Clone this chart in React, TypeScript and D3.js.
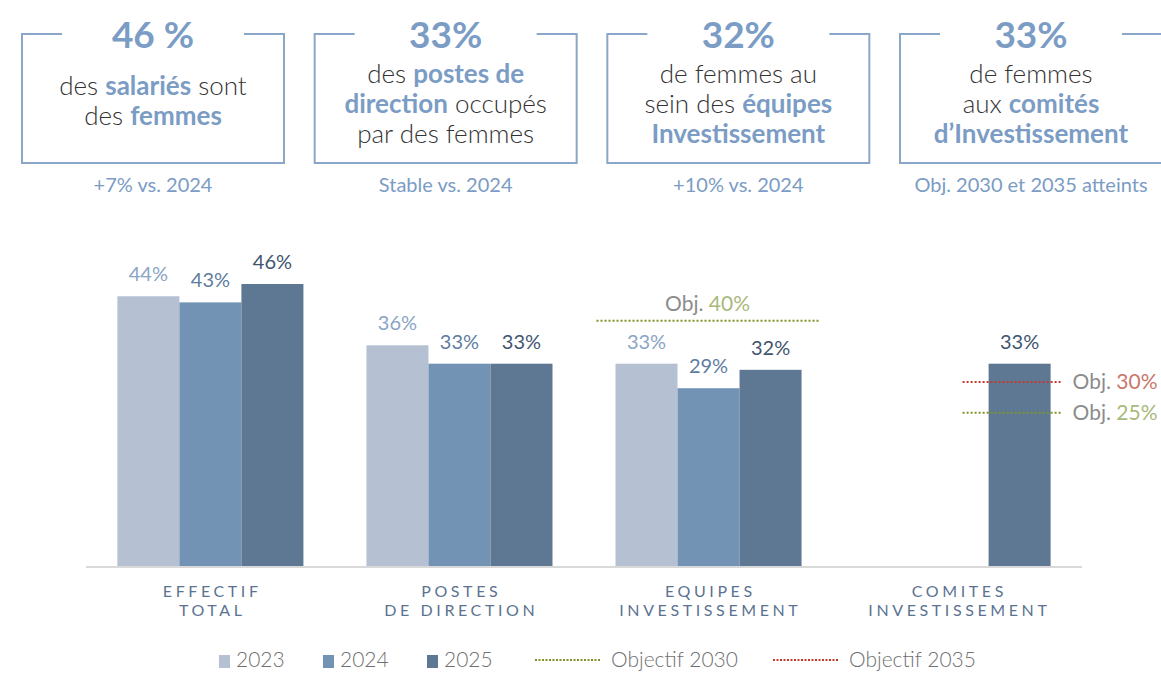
import React from "react";
import * as d3 from "d3";

const categories = [
  ["EFFECTIF", "TOTAL"],
  ["POSTES", "DE DIRECTION"],
  ["EQUIPES", "INVESTISSEMENT"],
  ["COMITES", "INVESTISSEMENT"],
];
const years = ["2023", "2024", "2025"];
const values2023: (number | null)[] = [44, 36, 33, null];
const values2024: (number | null)[] = [43, 33, 29, null];
const values2025: (number | null)[] = [46, 33, 32, 33];
const objectives = [
  { cat: 2, value: 40, kind: "2030", labelPos: "top" },
  { cat: 3, value: 30, kind: "2035", labelPos: "right" },
  { cat: 3, value: 25, kind: "2030", labelPos: "right" },
];
const kpiValues = ["46 %", "33%", "32%", "33%"];
const kpiLines: { t: string; b?: boolean }[][][] = [
  [
    [{ t: "des " }, { t: "salariés", b: true }, { t: " sont" }],
    [{ t: "des " }, { t: "femmes", b: true }],
  ],
  [
    [{ t: "des " }, { t: "postes de", b: true }],
    [{ t: "direction", b: true }, { t: " occupés" }],
    [{ t: "par des femmes" }],
  ],
  [
    [{ t: "de femmes au" }],
    [{ t: "sein des " }, { t: "équipes", b: true }],
    [{ t: "Investissement", b: true }],
  ],
  [
    [{ t: "de femmes" }],
    [{ t: "aux " }, { t: "comités", b: true }],
    [{ t: "d’Investissement", b: true }],
  ],
];
const kpiNotes = ["+7% vs. 2024", "Stable vs. 2024", "+10% vs. 2024", "Obj. 2030 et 2035 atteints"];
const legendObjectives = ["Objectif 2030", "Objectif 2035"];

const W = 1161;
const H = 673;
const FONT = "Lato, 'Open Sans', sans-serif";
const barColors = ["#b5c1d3", "#7393b5", "#5e7893"];
const labelColors = ["#8aa5c5", "#5f7d9f", "#3f556f"];
const objColors: Record<string, string> = { "2030": "#7d9428", "2035": "#c0392b" };
const objTextColors: Record<string, string> = { "2030": "#a9b97c", "2035": "#c8786c" };
const blue = "#7b9cc4";
const boxBlue = "#8aa6c8";

export default function App() {
  const baseline = 566;
  const x = d3
    .scaleBand<number>()
    .domain(d3.range(categories.length))
    .range([86, 1082])
    .paddingInner(0.253)
    .paddingOuter(0.126);
  const xi = d3.scaleBand<number>().domain(d3.range(years.length)).range([0, x.bandwidth()]);
  const y = d3.scaleLinear().domain([0, 46]).range([baseline, 284]);
  const series = [values2023, values2024, values2025];

  const boxX = d3.scaleLinear().domain([0, 3]).range([22, 900]);
  const boxW = 262;

  return (
    <svg width={W} height={H} style={{ position: "absolute", left: 0, top: 0, fontFamily: FONT }}>
      <rect width={W} height={H} fill="#fff" />
      {/* KPI boxes */}
      {kpiValues.map((v, i) => {
        const x0 = boxX(i);
        const cx = x0 + boxW / 2;
        const gap = 91;
        const lines = kpiLines[i];
        const startY = lines.length === 2 ? 95 : 83;
        return (
          <g key={i}>
            <path
              d={`M${cx - gap},34 H${x0} V163 H${x0 + boxW} V34 H${cx + gap}`}
              fill="none"
              stroke={boxBlue}
              strokeWidth={2}
            />
            <text x={cx} y={48} textAnchor="middle" fontSize={37} fontWeight={700} fill={blue}>
              {v}
            </text>
            {lines.map((ln, j) => (
              <text key={j} x={cx} y={startY + j * 30} textAnchor="middle" fontSize={26} fontWeight={300} fill="#333">
                {ln.map((s, k) => (
                  <tspan key={k} fill={s.b ? blue : "#333"} fontWeight={s.b ? 700 : 300}>
                    {s.t}
                  </tspan>
                ))}
              </text>
            ))}
            <text x={cx} y={192} textAnchor="middle" fontSize={20} fill={blue}>
              {kpiNotes[i]}
            </text>
          </g>
        );
      })}

      {/* bars */}
      {categories.map((c, ci) => (
        <g key={ci} transform={`translate(${x(ci)},0)`}>
          {series.map((s, si) => {
            const v = s[ci];
            if (v == null) return null;
            return (
              <g key={si}>
                <rect x={xi(si)} y={y(v)} width={xi.bandwidth()} height={baseline - y(v)} fill={barColors[si]} />
                <text
                  x={xi(si)! + xi.bandwidth() / 2}
                  y={y(v) - 15}
                  textAnchor="middle"
                  fontSize={20}
                  fill={labelColors[si]}
                >
                  {v}%
                </text>
              </g>
            );
          })}
        </g>
      ))}

      {/* axis line */}
      <line x1={86} x2={1082} y1={baseline + 1} y2={baseline + 1} stroke="#d9d9d9" strokeWidth={2} />
      {categories.map((c, ci) => (
        <text key={ci} textAnchor="middle" fontSize={16} fill="#5b7391" letterSpacing={3.6}>
          <tspan x={x(ci)! + x.bandwidth() / 2 + 1.8} y={597}>{c[0]}</tspan>
          <tspan x={x(ci)! + x.bandwidth() / 2 + 1.8} y={616}>{c[1]}</tspan>
        </text>
      ))}

      {/* objectives */}
      {objectives.map((o, oi) => {
        const yy = y(o.value);
        let x1: number, x2: number;
        if (o.labelPos === "top") {
          x1 = x(o.cat)! - 19;
          x2 = x(o.cat)! + x.bandwidth() + 17;
        } else {
          x1 = x(o.cat)! + xi(2)! - 26;
          x2 = x(o.cat)! + xi(2)! + xi.bandwidth() + 12;
        }
        return (
          <g key={oi}>
            <line x1={x1} x2={x2} y1={yy} y2={yy} stroke={objColors[o.kind]} strokeWidth={2} strokeDasharray="2 2" />
            {o.labelPos === "top" ? (
              <text x={(x1 + x2) / 2} y={yy - 10} textAnchor="middle" fontSize={21}>
                <tspan fill="#8c8c8c">Obj. </tspan>
                <tspan fill={objTextColors[o.kind]}>{o.value}%</tspan>
              </text>
            ) : (
              <text x={x2 + 10} y={yy + 7} fontSize={21}>
                <tspan fill="#8c8c8c">Obj. </tspan>
                <tspan fill={objTextColors[o.kind]}>{o.value}%</tspan>
              </text>
            )}
          </g>
        );
      })}

      {/* legend */}
      <g>
        {years.map((yr, i) => {
          const lx = 219 + i * 104;
          return (
            <g key={yr}>
              <rect x={lx} y={655} width={11} height={13} fill={barColors[i]} />
              <text x={lx + 17} y={667} fontSize={21} fontWeight={300} fill="#707070">
                {yr}
              </text>
            </g>
          );
        })}
        {legendObjectives.map((lab, i) => {
          const lx = 535 + i * 238;
          return (
            <g key={lab}>
              <line x1={lx} x2={lx + 65} y1={660} y2={660} stroke={i === 0 ? objColors["2030"] : objColors["2035"]} strokeWidth={2} strokeDasharray="2 1.5" />
              <text x={lx + 76} y={667} fontSize={21} fontWeight={300} fill="#707070">
                {lab}
              </text>
            </g>
          );
        })}
      </g>
    </svg>
  );
}
